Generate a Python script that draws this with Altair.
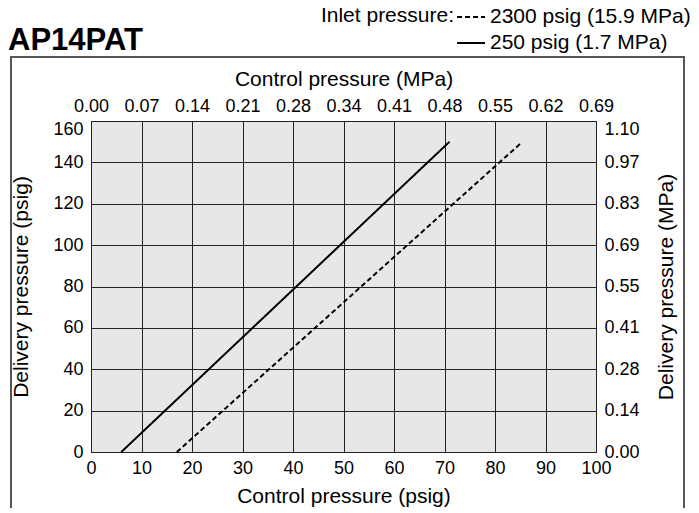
import altair as alt
import pandas as pd

# ---- data ----
series_names = ["2300 psig (15.9 MPa)", "250 psig (1.7 MPa)"]
control_psig_2300 = [17, 85]
delivery_psig_2300 = [0, 149]
control_psig_250 = [6, 71]
delivery_psig_250 = [0, 150]

x_ticks = [0, 10, 20, 30, 40, 50, 60, 70, 80, 90, 100]
y_ticks = [0, 20, 40, 60, 80, 100, 120, 140, 160]
x_mpa_labels = ["0.00", "0.07", "0.14", "0.21", "0.28", "0.34", "0.41", "0.48", "0.55", "0.62", "0.69"]
y_mpa_labels = ["0.00", "0.14", "0.28", "0.41", "0.55", "0.69", "0.83", "0.97", "1.10"]
chart_title = ["AP14PAT"]
legend_heading = ["Inlet pressure:"]

rows = []
for x, y in zip(control_psig_2300, delivery_psig_2300):
    rows.append({"control": x, "delivery": y, "inlet": series_names[0]})
for x, y in zip(control_psig_250, delivery_psig_250):
    rows.append({"control": x, "delivery": y, "inlet": series_names[1]})
df = pd.DataFrame(rows)

FONT = "Liberation Sans"
LFS = 18     # tick label size
TFS = 21     # axis title size
GFS = 21     # legend text size
W, H = 505, 331

def arr_expr(labels, step):
    return "[" + ",".join("'" + s + "'" for s in labels) + "][round(datum.value/" + str(step) + ")]"

top_shift = {"expr": "datum.value == 160 ? 8 : 0"}

x_scale = alt.Scale(domain=[0, 100], nice=False)
y_scale = alt.Scale(domain=[0, 160], nice=False)

lines = alt.Chart(df).mark_line(color="black", strokeWidth=2).encode(
    x=alt.X("control:Q", scale=x_scale,
            axis=alt.Axis(orient="bottom", values=x_ticks, title="Control pressure (psig)",
                          grid=True, labelPadding=7, titlePadding=8)),
    y=alt.Y("delivery:Q", scale=y_scale,
            axis=alt.Axis(orient="left", values=y_ticks, title="Delivery pressure (psig)",
                          grid=True, labelPadding=8, titlePadding=21, labelOffset=top_shift)),
    strokeDash=alt.StrokeDash(
        "inlet:N",
        scale=alt.Scale(domain=series_names, range=[[5, 3], [1, 0]]),
        sort=series_names,
        legend=alt.Legend(
            title=None, orient="none", legendX=365, legendY=-119,
            labelFontSize=GFS, labelFont=FONT, labelColor="black", labelLimit=400,
            symbolType="stroke", symbolSize=784, symbolStrokeWidth=2,
            symbolStrokeColor="black", labelOffset=4, rowPadding=1, padding=0,
        ),
    ),
)

ghost = alt.Chart(df).mark_line(opacity=0).encode(
    x=alt.X("control:Q", scale=x_scale,
            axis=alt.Axis(orient="top", values=x_ticks, title="Control pressure (MPa)",
                          grid=False, labelExpr=arr_expr(x_mpa_labels, 10),
                          labelPadding=6, titlePadding=8)),
    y=alt.Y("delivery:Q", scale=y_scale,
            axis=alt.Axis(orient="right", values=y_ticks, title="Delivery pressure (MPa)",
                          grid=False, labelExpr=arr_expr(y_mpa_labels, 20),
                          labelPadding=8, titlePadding=16, titleAngle=270,
                          titleBaseline="top", labelOffset=top_shift)),
    detail="inlet:N",
)

box = alt.Chart(alt.Data(values=[{}])).mark_rect(
    filled=False, stroke="#555555", strokeWidth=2, clip=False
).encode(
    x=alt.value(-80), x2=alt.value(593), y=alt.value(-64), y2=alt.value(420)
)

title = alt.Chart(pd.DataFrame({"t": chart_title})).mark_text(
    font=FONT, fontSize=31, fontWeight="bold", color="black", align="left", baseline="alphabetic"
).encode(text="t:N", x=alt.value(-83), y=alt.value(-71))

heading = alt.Chart(pd.DataFrame({"t": legend_heading})).mark_text(
    font=FONT, fontSize=GFS, color="black", align="right", baseline="middle"
).encode(text="t:N", x=alt.value(363), y=alt.value(-105))

chart = alt.layer(box, lines, ghost, title, heading).resolve_axis(
    x="independent", y="independent"
).properties(
    width=W, height=H,
    autosize=alt.AutoSizeParams(type="none"),
    padding={"left": 83, "top": 113, "right": 95, "bottom": 56},
).configure_view(
    fill="#e7e7e7", stroke="#222222", strokeWidth=1
).configure_axis(
    labelFont=FONT, labelFontSize=LFS, labelColor="black",
    titleFont=FONT, titleFontSize=TFS, titleFontWeight="normal", titleColor="black",
    ticks=False, domain=False, gridColor="#222222", gridWidth=1, gridOpacity=1,
    labelFlush=False, labelOverlap=False,
)

chart.save("out.html", embed_options={"renderer": "svg", "actions": False})
